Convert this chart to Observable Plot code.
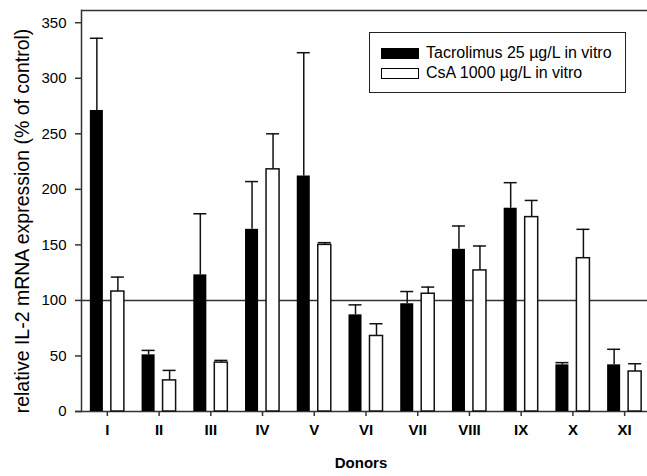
<!DOCTYPE html>
<html>
<head>
<meta charset="utf-8">
<script src="https://cdn.jsdelivr.net/npm/d3@7"></script>
<script src="https://cdn.jsdelivr.net/npm/@observablehq/plot@0.6"></script>
<style>
  html, body { margin: 0; padding: 0; background: #fff; }
  #wrap { position: relative; width: 647px; height: 476px; overflow: hidden; font-family: "Liberation Sans", Arial, sans-serif; }
  #legend { position: absolute; left: 369px; top: 32px; width: 257px; height: 61px; border: 1px solid #222; box-sizing: border-box; background: #fff; font-size: 16px; color: #000; }
  .row { position: absolute; left: 11px; display: flex; align-items: center; white-space: nowrap; }
  .sw { width: 38px; height: 11px; box-sizing: border-box; border: 1px solid #000; margin-right: 7px; }
</style>
</head>
<body>
<div id="wrap">
  <div id="chart"></div>
  <div id="legend">
    <div class="row" style="top:11px"><div class="sw" style="background:#000"></div><span>Tacrolimus 25 µg/L in vitro</span></div>
    <div class="row" style="top:31px"><div class="sw" style="background:#fff"></div><span>CsA 1000 µg/L in vitro</span></div>
  </div>
</div>
<script>
const donors = ["I","II","III","IV","V","VI","VII","VIII","IX","X","XI"];
const tacrolimus = [271, 51, 123, 164, 212, 87, 97, 146, 183, 42, 42];
const tacrolimusErr = [336, 55, 178, 207, 323, 96, 108, 167, 206, 44, 56];
const csa = [108, 28, 44, 218, 150, 68, 106, 127, 175, 138, 36];
const csaErr = [121, 37, 46, 250, 152, 79, 112, 149, 190, 164, 43];
const yTicks = [0, 50, 100, 150, 200, 250, 300, 350];
const reference = [100];
const yMax = 361;

const tac = donors.map((d, i) => ({donor: d, value: tacrolimus[i], err: tacrolimusErr[i]}));
const cs = donors.map((d, i) => ({donor: d, value: csa[i], err: csaErr[i]}));

const font = "Liberation Sans, Arial, sans-serif";
const nearIn = 8.85, farIn = 29.85, off = 10.5;

const chart = Plot.plot({
  width: 647,
  height: 476,
  marginLeft: 81,
  marginRight: -3,
  marginTop: 10,
  marginBottom: 65,
  style: {fontFamily: font, fontSize: "15px", color: "#000", background: "#fff", overflow: "visible"},
  x: {domain: donors, padding: 0, round: false, label: null},
  y: {domain: [0, yMax], label: null},
  marks: [
    Plot.ruleY(reference, {stroke: "#333", strokeWidth: 1.5}),
    Plot.ruleY([yMax], {stroke: "#333", strokeWidth: 1.5}),
    Plot.ruleY([0], {stroke: "#333", strokeWidth: 1.5, insetLeft: -6}),
    Plot.frame({anchor: "left", stroke: "#333", strokeWidth: 1.5}),
    // error bars
    Plot.ruleX(tac, {x: "donor", y1: "value", y2: "err", dx: -off, stroke: "#111", strokeWidth: 1.5}),
    Plot.tickY(tac, {x: "donor", y: "err", insetLeft: nearIn, insetRight: farIn, stroke: "#111", strokeWidth: 1.5}),
    Plot.ruleX(cs, {x: "donor", y1: "value", y2: "err", dx: off, stroke: "#111", strokeWidth: 1.5}),
    Plot.tickY(cs, {x: "donor", y: "err", insetLeft: farIn, insetRight: nearIn, stroke: "#111", strokeWidth: 1.5}),
    // bars
    Plot.barY(tac, {x: "donor", y: "value", fill: "#000", insetLeft: nearIn, insetRight: farIn}),
    Plot.barY(cs, {x: "donor", y: "value", fill: "#fff", stroke: "#111", strokeWidth: 1.5, insetLeft: farIn, insetRight: nearIn}),
    Plot.axisY({ticks: yTicks, tickSize: 6, tickPadding: 9, stroke: "#333", strokeWidth: 1.5, fontSize: 15,
      label: "relative IL-2 mRNA expression (% of control)", labelAnchor: "center", labelArrow: "none", labelOffset: 66}),
    Plot.axisX({tickSize: 5, tickPadding: 8, stroke: "#333", strokeWidth: 1.5, fontSize: 15, fontWeight: "bold",
      label: "Donors", labelAnchor: "center", labelArrow: "none", labelOffset: 56})
  ]
});
document.getElementById("chart").appendChild(chart);
// label styling
d3.select(chart).selectAll("[aria-label='y-axis label'] text").style("font-size", "19.5px").attr("dx", -10);
d3.select(chart).selectAll("[aria-label='x-axis label'] text").style("font-weight", "bold").attr("dx", -5);
</script>
</body>
</html>
